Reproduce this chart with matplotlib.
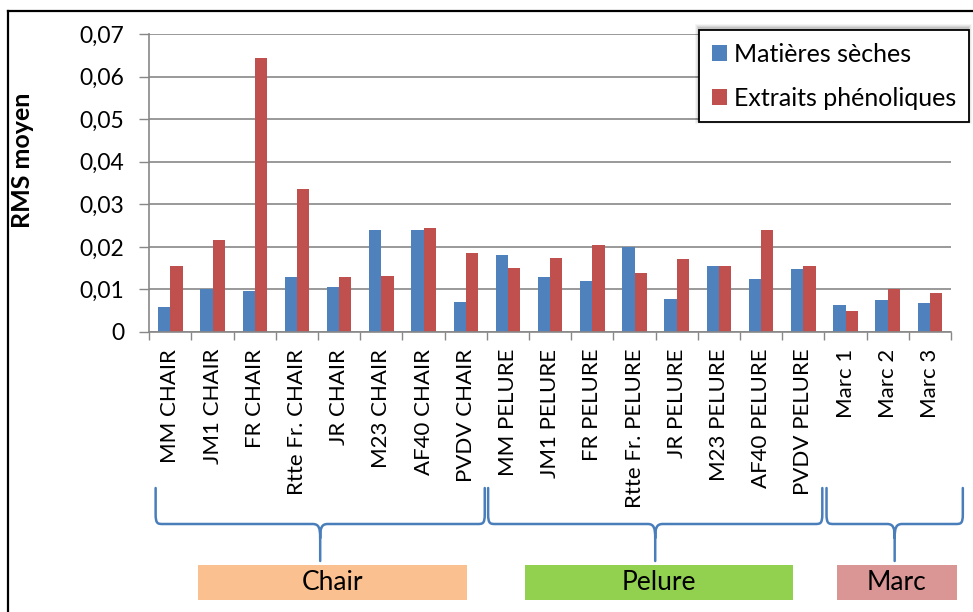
import matplotlib
matplotlib.use("Agg")
import matplotlib.pyplot as plt
from matplotlib.path import Path
from matplotlib.patches import PathPatch, Rectangle
from matplotlib.lines import Line2D
import matplotlib.transforms as mtransforms

# ---- data -------------------------------------------------------------
categories = [
    "MM CHAIR", "JM1 CHAIR", "FR CHAIR", "Rtte Fr. CHAIR", "JR CHAIR",
    "M23 CHAIR", "AF40 CHAIR", "PVDV CHAIR",
    "MM PELURE", "JM1 PELURE", "FR PELURE", "Rtte Fr. PELURE", "JR PELURE",
    "M23 PELURE", "AF40 PELURE", "PVDV PELURE",
    "Marc 1", "Marc 2", "Marc 3",
]
matieres_seches = [
    0.0058, 0.0101, 0.0096, 0.0129, 0.0106, 0.0240, 0.0240, 0.0070,
    0.0182, 0.0129, 0.0120, 0.0200, 0.0078, 0.0156, 0.0124, 0.0147,
    0.0063, 0.0076, 0.0067,
]
extraits_phenoliques = [
    0.0156, 0.0216, 0.0644, 0.0335, 0.0129, 0.0132, 0.0245, 0.0186,
    0.0150, 0.0174, 0.0204, 0.0138, 0.0171, 0.0156, 0.0240, 0.0156,
    0.0049, 0.0100, 0.0091,
]
series_names = ["Matières sèches", "Extraits phénoliques"]
ytick_values = [0, 0.01, 0.02, 0.03, 0.04, 0.05, 0.06, 0.07]
ytick_labels = ["0", "0,01", "0,02", "0,03", "0,04", "0,05", "0,06", "0,07"]
groups = ["Chair", "Pelure", "Marc"]

# ---- style ------------------------------------------------------------
BLUE = "#4F81BD"
RED = "#C0504D"
GRID = "#878787"
BRACE = "#4A7EBB"
BOX_COLORS = ["#FAC090", "#92D050", "#D99694"]
FONT = ["Lato", "DejaVu Sans"]

W, H = 973, 612
fig = plt.figure(figsize=(W / 100, H / 100), dpi=100)
ax = fig.add_axes([149.3 / W, 1 - 332 / H, (951 - 149.3) / W, (332 - 34) / H])

x = list(range(len(categories)))
bw = 0.29
ax.bar([i - bw / 2 for i in x], matieres_seches, width=bw, color=BLUE,
       label=series_names[0], zorder=2)
ax.bar([i + bw / 2 for i in x], extraits_phenoliques, width=bw, color=RED,
       label=series_names[1], zorder=2)

ax.set_xlim(-0.5, len(categories) - 0.5)
ax.set_ylim(0, 0.07)
ax.set_axisbelow(True)

# y axis
ax.set_yticks(ytick_values)
ax.set_yticklabels(ytick_labels, fontfamily=FONT, fontsize=16.5)
ax.tick_params(axis="y", direction="out", length=7.2, width=1, color=GRID,
               pad=11)
ax.yaxis.grid(True, color=GRID, linewidth=1.2)

# x axis: labels at centres, tick marks at category boundaries
ax.set_xticks(x)
ax.set_xticklabels(categories, rotation=90, fontfamily=FONT, fontsize=16,
                   va="top", ha="center")
ax.set_xticks([i - 0.5 for i in range(len(categories) + 1)], minor=True)
ax.tick_params(axis="x", which="major", length=0, pad=12)
ax.tick_params(axis="x", which="minor", length=6, width=1, color=GRID,
               direction="out")

for side in ("top", "right"):
    ax.spines[side].set_visible(False)
for side in ("left", "bottom"):
    ax.spines[side].set_color(GRID)
    ax.spines[side].set_linewidth(1.2)

ax.set_ylabel("RMS moyen", fontfamily=FONT, fontsize=18, fontweight="bold")
ax.yaxis.set_label_coords(34 / W, 1 - 160 / H, transform=fig.transFigure)

# ---- legend with soft shadow ------------------------------------------
leg = ax.legend(
    loc="upper left", bbox_to_anchor=(699 / W, 1 - 30 / H),
    bbox_transform=fig.transFigure, prop={"family": FONT, "size": 18},
    frameon=True, fancybox=False, framealpha=1, edgecolor="black",
    handlelength=0.62, handleheight=0.62, handletextpad=0.3,
    labelspacing=0.85, borderpad=0.5, borderaxespad=0,
)
leg.get_frame().set_linewidth(1.3)
leg.set_zorder(6)
for k, a in enumerate([0.04, 0.05, 0.07, 0.09]):
    off = 4 - k
    ax.add_patch(Rectangle(((699 - off) / W, 1 - (122 + off - 2) / H),
                           (269 + 2 * off) / W, (92 + 2 * off) / H,
                           transform=fig.transFigure, facecolor="black",
                           alpha=a, edgecolor="none", zorder=5,
                           clip_on=False))

# ---- group braces and boxes -------------------------------------------
bt = mtransforms.blended_transform_factory(ax.transData, fig.transFigure)


def fy(py):
    return 1 - py / H


brace_spans = [(-0.35, 7.45), (7.53, 15.45), (15.55, 18.78)]
box_spans = [(0.65, 7.03), (8.40, 14.75), (15.79, 18.64)]
y_top, y_mid, y_tip = 488, 524, 561
rx = 0.18
for (x0, x1), (b0, b1), name, col in zip(brace_spans, box_spans, groups,
                                          BOX_COLORS):
    xm = (x0 + x1) / 2
    verts = [
        (x0, fy(y_top)), (x0, fy(y_mid - 10)),
        (x0, fy(y_mid)), (x0 + 0.05, fy(y_mid)), (x0 + rx, fy(y_mid)),
        (xm - rx, fy(y_mid)),
        (xm - 0.03, fy(y_mid)), (xm, fy(y_mid + 4)), (xm, fy(y_mid + 14)),
        (xm, fy(y_tip)),
        (x1, fy(y_top)), (x1, fy(y_mid - 10)),
        (x1, fy(y_mid)), (x1 - 0.05, fy(y_mid)), (x1 - rx, fy(y_mid)),
        (xm + rx, fy(y_mid)),
        (xm + 0.03, fy(y_mid)), (xm, fy(y_mid + 4)), (xm, fy(y_mid + 14)),
    ]
    codes = [
        Path.MOVETO, Path.LINETO,
        Path.CURVE4, Path.CURVE4, Path.CURVE4,
        Path.LINETO,
        Path.CURVE4, Path.CURVE4, Path.CURVE4,
        Path.LINETO,
        Path.MOVETO, Path.LINETO,
        Path.CURVE4, Path.CURVE4, Path.CURVE4,
        Path.LINETO,
        Path.CURVE4, Path.CURVE4, Path.CURVE4,
    ]
    ax.add_patch(PathPatch(Path(verts, codes), transform=bt, facecolor="none",
                           edgecolor=BRACE, linewidth=1.8, clip_on=False,
                           capstyle="round", joinstyle="round"))
    ax.add_patch(Rectangle((b0, fy(600)), b1 - b0, (600 - 565) / H,
                           transform=bt, facecolor=col, edgecolor="none",
                           clip_on=False))
    ax.text((b0 + b1) / 2, fy(583), name, transform=bt, ha="center",
            va="center", fontfamily=FONT, fontsize=19, color="black",
            clip_on=False)

# ---- outer frame --------------------------------------------------------
fig.lines.append(Line2D([8 / W, 8 / W], [0, fy(11)], transform=fig.transFigure,
                        color="black", linewidth=1.6))
fig.lines.append(Line2D([8 / W, 1], [fy(11), fy(11)],
                        transform=fig.transFigure, color="black",
                        linewidth=1.6))

fig.savefig("out.png", dpi=100, facecolor="white")
